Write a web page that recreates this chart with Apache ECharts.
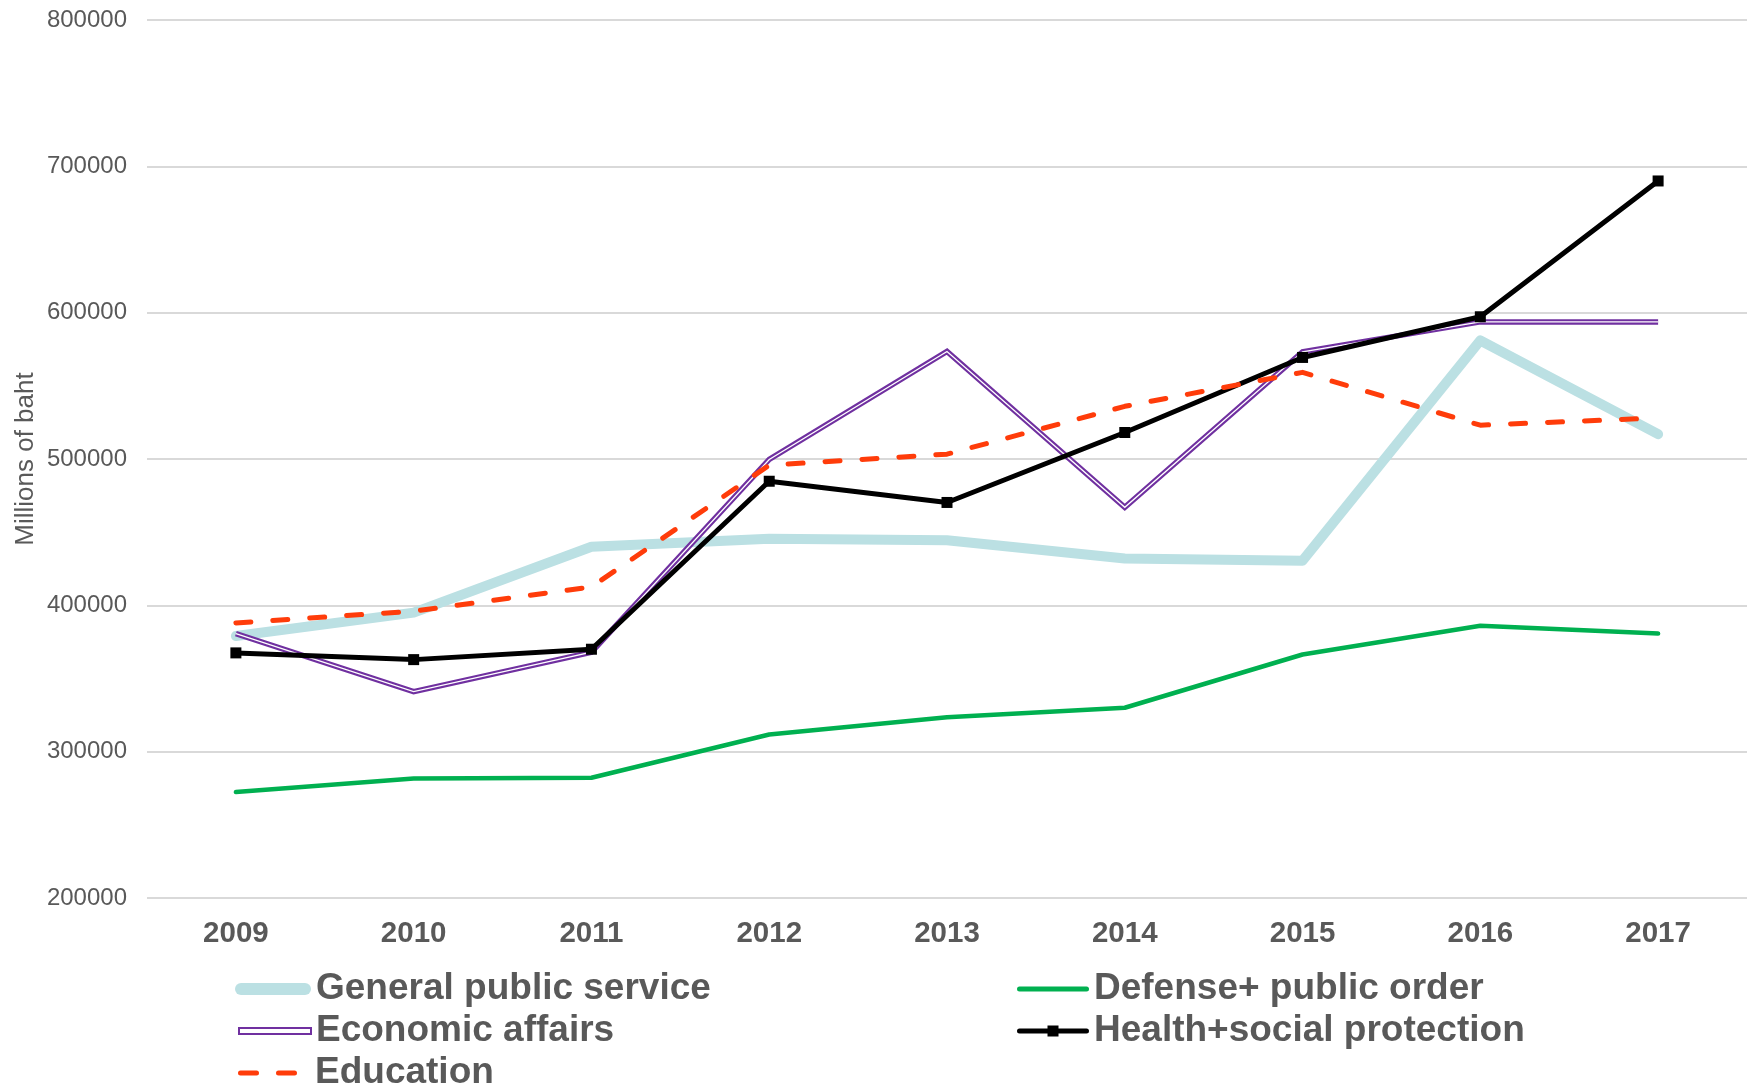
<!DOCTYPE html>
<html>
<head>
<meta charset="utf-8">
<script src="https://cdn.jsdelivr.net/npm/echarts@6/dist/echarts.min.js"></script>
<style>
html,body{margin:0;padding:0;background:#fff;}
#chart{width:1752px;height:1087px;}
</style>
</head>
<body>
<div id="chart"></div>
<script>
const years = ['2009','2010','2011','2012','2013','2014','2015','2016','2017'];
const generalPublicService = [379000, 395000, 440000, 445500, 444500, 432000, 430500, 581000, 517000];
const defensePublicOrder = [272400, 281600, 282200, 311700, 323500, 330000, 366400, 386000, 380700];
const economicAffairs = [380700, 341000, 368000, 499700, 573500, 467000, 573200, 593700, 593700];
const healthSocial = [367500, 362900, 370000, 484800, 470300, 518100, 569400, 597200, 690000];
const education = [388000, 396000, 412600, 495800, 503300, 536000, 559200, 523100, 528100];
const yTicks = {min: 200000, max: 800000, interval: 100000};

const FONT = "'Liberation Sans', Arial, sans-serif";
const GREY = '#595959';
const C_GEN = '#bbe0e3', C_DEF = '#00b050', C_ECO = '#7030a0', C_HEA = '#000000', C_EDU = '#ff3c0a';
const chart = echarts.init(document.getElementById('chart'), null, {renderer: 'canvas'});

function legendAt(item, left, top, w, h) {
  return {
    data: [item],
    left: left, top: top,
    orient: 'horizontal',
    padding: 0,
    itemWidth: w, itemHeight: h,
    selectedMode: false,
    textStyle: {fontFamily: FONT, fontSize: 37, fontWeight: 'bold', color: GREY, lineHeight: 40}
  };
}

const ICON_GEN = 'path://M6,0 H70 A6,6 0 0 1 70,12 H6 A6,6 0 0 1 6,0 Z';
const ICON_DEF = 'path://M2.5,0 H69.5 A2.5,2.5 0 0 1 69.5,5 H2.5 A2.5,2.5 0 0 1 2.5,0 Z';
const ICON_HEA = 'path://M2.5,3.5 H69.5 A2.5,2.5 0 0 1 69.5,8.5 H2.5 A2.5,2.5 0 0 1 2.5,3.5 Z M30.5,0.5 H41.5 V11.5 H30.5 Z M0,0 L0,12 M72,0 L72,12';
const ICON_EDU = 'path://M2.5,0 H18.5 A2.5,2.5 0 0 1 18.5,5 H2.5 A2.5,2.5 0 0 1 2.5,0 Z M40.5,0 H56.5 A2.5,2.5 0 0 1 56.5,5 H40.5 A2.5,2.5 0 0 1 40.5,0 Z M72,0 L72,5';

chart.setOption({
  animation: false,
  backgroundColor: '#fff',
  grid: {left: 147, right: 5, top: 20, bottom: 189, containLabel: false, outerBoundsMode: 'none'},
  legend: [
    legendAt({name: 'General public service', icon: ICON_GEN, itemStyle: {color: C_GEN, borderWidth: 0}}, 235, 969, 76, 12),
    legendAt({name: 'Defense+ public order', icon: ICON_DEF, itemStyle: {color: C_DEF, borderWidth: 0}}, 1017, 969, 72, 5),
    legendAt({name: 'Economic affairs', icon: 'rect', itemStyle: {color: '#ffffff', borderColor: C_ECO, borderWidth: 2}}, 238, 1011, 72, 6),
    legendAt({name: 'Health+social protection', icon: ICON_HEA, itemStyle: {color: C_HEA, borderWidth: 0}}, 1017, 1011, 72, 12),
    legendAt({name: 'Education', icon: ICON_EDU, itemStyle: {color: C_EDU, borderWidth: 0}}, 238, 1053, 72, 5)
  ],
  xAxis: {
    type: 'category',
    data: years,
    boundaryGap: true,
    axisLine: {show: false},
    axisTick: {show: false},
    axisLabel: {fontFamily: FONT, fontSize: 29.5, fontWeight: 'bold', color: GREY, margin: 21}
  },
  yAxis: {
    type: 'value',
    min: yTicks.min, max: yTicks.max, interval: yTicks.interval,
    name: 'Millions of baht',
    nameLocation: 'middle',
    nameGap: 108,
    nameMoveOverlap: false,
    nameTextStyle: {fontFamily: FONT, fontSize: 26, color: GREY},
    axisLine: {show: false},
    axisTick: {show: false},
    axisLabel: {fontFamily: FONT, fontSize: 24, color: GREY, margin: 20, formatter: function (v) { return String(v); }},
    splitLine: {lineStyle: {color: '#d9d9d9', width: 2}}
  },
  series: [
    {
      name: 'General public service', type: 'line', data: generalPublicService,
      symbol: 'none', color: C_GEN,
      lineStyle: {color: C_GEN, width: 10, cap: 'round', join: 'round'}
    },
    {
      name: 'Defense+ public order', type: 'line', data: defensePublicOrder,
      symbol: 'none', color: C_DEF,
      lineStyle: {color: C_DEF, width: 4.5, cap: 'round', join: 'round'}
    },
    {
      name: 'Economic affairs', type: 'line', data: economicAffairs,
      symbol: 'none', color: C_ECO,
      lineStyle: {color: C_ECO, width: 5.5, join: 'miter'}
    },
    {
      name: 'Economic affairs inner', type: 'line', data: economicAffairs,
      symbol: 'none', silent: true, color: '#ffffff',
      lineStyle: {color: '#ffffff', width: 1.3, join: 'miter'}
    },
    {
      name: 'Health+social protection', type: 'line', data: healthSocial,
      symbol: 'rect', symbolSize: 11, showAllSymbol: true, color: C_HEA,
      itemStyle: {color: C_HEA},
      lineStyle: {color: C_HEA, width: 5, join: 'round'}
    },
    {
      name: 'Education', type: 'line', data: education,
      symbol: 'none', color: C_EDU,
      lineStyle: {color: C_EDU, width: 5, type: [15, 22], cap: 'round', join: 'round'}
    }
  ]
});
</script>
</body>
</html>
